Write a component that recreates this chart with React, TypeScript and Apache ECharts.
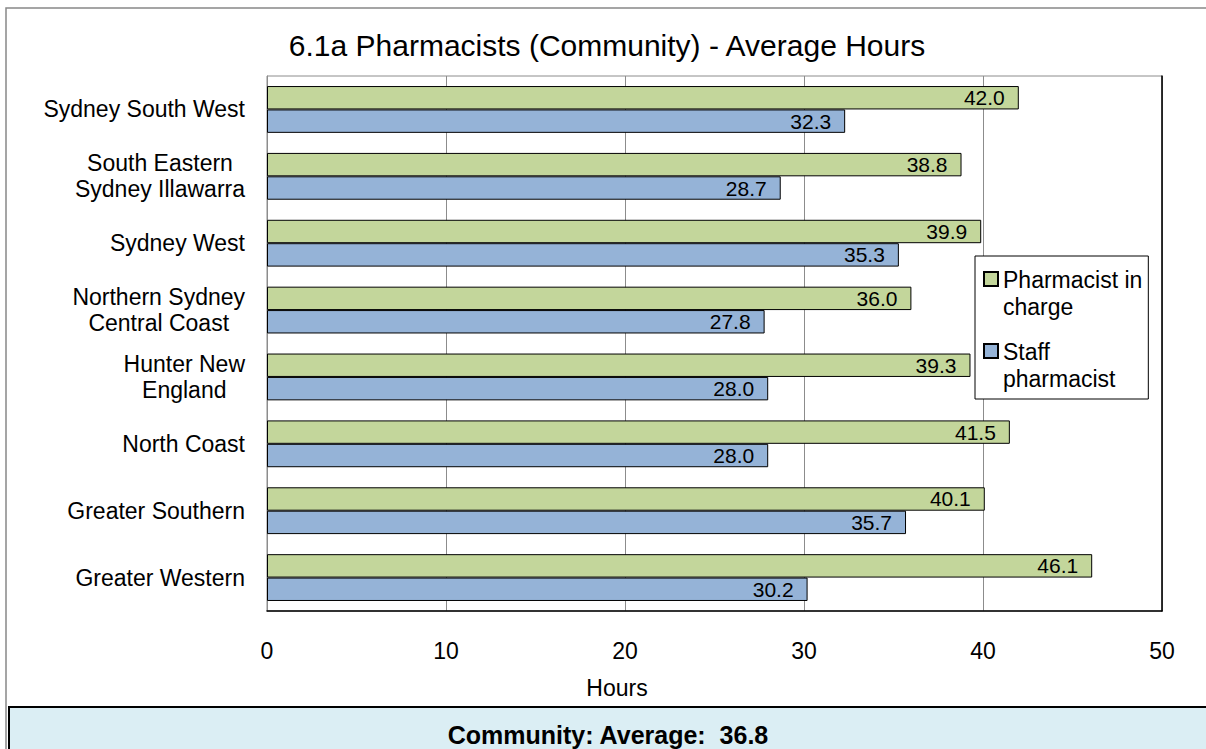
import React, { useEffect, useRef } from "react";
import * as echarts from "echarts";

const categories = [
  "Sydney South West",
  "South Eastern\nSydney Illawarra",
  "Sydney West",
  "Northern Sydney\nCentral Coast",
  "Hunter New\nEngland",
  "North Coast",
  "Greater Southern",
  "Greater Western",
];
const inChargeHours = [42.0, 38.8, 39.9, 36.0, 39.3, 41.5, 40.1, 46.1];
const staffHours = [32.3, 28.7, 35.3, 27.8, 28.0, 28.0, 35.7, 30.2];
const seriesNames = ["Pharmacist in\ncharge", "Staff\npharmacist"];
const xMin = 0;
const xMax = 50;
const xInterval = 10;
const titleText = "6.1a Pharmacists (Community) - Average Hours";
const axisName = "Hours";
const footerText = "Community: Average:  36.8";

const FONT = "'Liberation Sans', Arial, sans-serif";
const GREEN = "#C3D69B";
const BLUE = "#95B3D7";
const GRID_GRAY = "#8C8C8C";

export default function App() {
  const ref = useRef<HTMLDivElement>(null);
  useEffect(() => {
    if (!ref.current) return;
    const chart = echarts.init(ref.current, null, { renderer: "svg" });
    const legendIcon = "path://M0,0L0,0M0,6L14,6L14,20L0,20ZM0,54L0,54";
    const barLabel = {
      show: true,
      position: "insideRight",
      distance: 14,
      fontFamily: FONT,
      fontSize: 21,
      color: "#000",
      formatter: (p: any) => Number(p.value).toFixed(1),
    };
    chart.setOption({
      animation: false,
      backgroundColor: "#ffffff",
      title: {
        text: titleText,
        left: 607,
        top: 30,
        padding: 0,
        textAlign: "center",
        textStyle: { fontFamily: FONT, fontSize: 30, fontWeight: "normal", color: "#000" },
      },
      legend: {
        orient: "vertical",
        left: 975,
        top: 256,
        padding: [9, 6, 6, 8],
        itemGap: 16,
        itemWidth: 14,
        itemHeight: 54,
        icon: legendIcon,
        backgroundColor: "#ffffff",
        borderColor: "#000",
        borderWidth: 1,
        borderRadius: 0,
        textStyle: { fontFamily: FONT, fontSize: 23, color: "#000", lineHeight: 27 },
        data: seriesNames,
      },
      grid: {
        left: 267,
        top: 76,
        width: 895,
        height: 535,
        show: true,
        borderColor: GRID_GRAY,
        borderWidth: 1,
        backgroundColor: "#ffffff",
      },
      xAxis: {
        type: "value",
        min: xMin,
        max: xMax,
        interval: xInterval,
        axisLine: { show: true, lineStyle: { color: "#000", width: 1.5 } },
        axisTick: { show: false },
        splitLine: { show: true, lineStyle: { color: GRID_GRAY, width: 1 } },
        axisLabel: { fontFamily: FONT, fontSize: 23, color: "#000", margin: 28 },
      },
      yAxis: [
        {
          type: "category",
          data: categories,
          inverse: true,
          axisLine: { show: true, lineStyle: { color: GRID_GRAY } },
          axisTick: { show: false },
          axisLabel: {
            margin: 22,
            formatter: (v: string) =>
              v
                .split("\n")
                .map((l) => `{c|${l}}`)
                .join("\n"),
            rich: {
              c: { align: "center", fontFamily: FONT, fontSize: 23, color: "#000", lineHeight: 26 },
            },
          },
        },
        {
          type: "category",
          data: categories,
          inverse: true,
          position: "right",
          axisLine: { show: true, lineStyle: { color: "#000", width: 1.5 } },
          axisTick: { show: false },
          axisLabel: { show: false },
        },
      ],
      series: [
        {
          name: seriesNames[0],
          type: "bar",
          data: inChargeHours,
          barGap: "0%",
          barCategoryGap: "30%",
          itemStyle: { color: GREEN, borderColor: "#000", borderWidth: 1 },
          label: barLabel,
        },
        {
          name: seriesNames[1],
          type: "bar",
          data: staffHours,
          barGap: "0%",
          barCategoryGap: "30%",
          itemStyle: { color: BLUE, borderColor: "#000", borderWidth: 1 },
          label: barLabel,
        },
      ],
      graphic: [
        {
          type: "rect",
          z: -10,
          silent: true,
          shape: { x: 6, y: 8, width: 1220, height: 780 },
          style: { fill: "none", stroke: "#888", lineWidth: 1.5 },
        },
        {
          type: "text",
          x: 617,
          y: 688,
          style: {
            text: axisName,
            fontFamily: FONT,
            fontSize: 23,
            fill: "#000",
            align: "center",
            verticalAlign: "middle",
          },
        },
        {
          type: "rect",
          shape: { x: 9, y: 707, width: 1220, height: 60 },
          style: { fill: "#DBEEF4", stroke: "#000", lineWidth: 2 },
        },
        {
          type: "text",
          x: 608,
          y: 735,
          style: {
            text: footerText,
            fontFamily: FONT,
            fontSize: 25,
            fontWeight: "bold",
            fill: "#000",
            align: "center",
            verticalAlign: "middle",
          },
        },
      ],
    });
    return () => chart.dispose();
  }, []);
  return (
    <div
      ref={ref}
      style={{ position: "fixed", left: 0, top: 0, width: 1206, height: 749, background: "#fff" }}
    />
  );
}
